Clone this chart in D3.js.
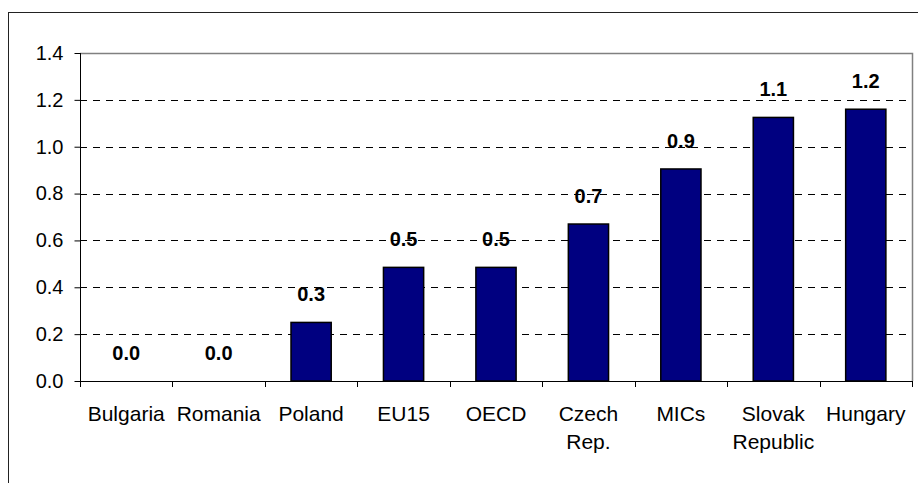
<!DOCTYPE html>
<html>
<head>
<meta charset="utf-8">
<script src="https://cdn.jsdelivr.net/npm/d3@7/dist/d3.min.js"></script>
<style>
  html, body { margin: 0; padding: 0; background: #fff; }
  svg { display: block; }
  text { font-family: "Liberation Sans", Arial, sans-serif; }
</style>
</head>
<body>
<svg id="chart" width="918" height="483"></svg>
<script>
const categories = ["Bulgaria", "Romania", "Poland", "EU15", "OECD", "Czech Rep.", "MICs", "Slovak Republic", "Hungary"];
const values = [0.0, 0.0, 0.25, 0.485, 0.485, 0.67, 0.905, 1.125, 1.16];
const valueLabels = ["0.0", "0.0", "0.3", "0.5", "0.5", "0.7", "0.9", "1.1", "1.2"];
const yTicks = [0, 0.2, 0.4, 0.6, 0.8, 1.0, 1.2, 1.4];

const svg = d3.select("#chart");
const plot = { left: 80, right: 912, top: 53, bottom: 381 };

// outer chart border (extends beyond right/bottom edge)
svg.append("rect")
  .attr("x", 8.5).attr("y", 12.5)
  .attr("width", 1000).attr("height", 1000)
  .attr("fill", "none").attr("stroke", "#222").attr("stroke-width", 1);

const y = d3.scaleLinear().domain([0, 1.4]).range([plot.bottom, plot.top]);
const xCat = d3.scaleBand().domain(categories).range([plot.left, plot.right]).padding(0);
const xBar = d3.scaleBand().domain(categories).range([plot.left, plot.right])
  .paddingInner(0.565).paddingOuter(0.2825);

// gridlines
svg.append("g").selectAll("line")
  .data(yTicks.filter(t => t > 0 && t < 1.4))
  .join("line")
  .attr("x1", plot.left).attr("x2", plot.right)
  .attr("y1", d => Math.round(y(d)) + 0.5).attr("y2", d => Math.round(y(d)) + 0.5)
  .attr("stroke", "#000").attr("stroke-width", 1)
  .attr("stroke-dasharray", "7,6");

// plot border top & right (gray)
svg.append("path")
  .attr("d", `M${plot.left},${plot.top + 0.5}H${plot.right + 0.5}V${plot.bottom}`)
  .attr("fill", "none").attr("stroke", "#808080").attr("stroke-width", 1.5);

// bars
svg.append("g").selectAll("rect")
  .data(categories.map((c, i) => ({ c, v: values[i] })))
  .join("rect")
  .attr("x", d => xBar(d.c))
  .attr("width", xBar.bandwidth())
  .attr("y", d => y(d.v))
  .attr("height", d => y(0) - y(d.v))
  .attr("fill", "#000080")
  .attr("stroke", d => d.v > 0 ? "#000" : "none")
  .attr("stroke-width", 1.5);

// value labels
svg.append("g").selectAll("text")
  .data(categories.map((c, i) => ({ c, v: values[i], l: valueLabels[i] })))
  .join("text")
  .attr("x", d => xCat(d.c) + xCat.bandwidth() / 2)
  .attr("y", d => y(d.v) - 21)
  .attr("text-anchor", "middle")
  .attr("font-weight", "bold")
  .attr("font-size", 20)
  .attr("fill", "#000")
  .text(d => d.l);

// y axis
const yAxis = d3.axisLeft(y).tickValues(yTicks).tickFormat(d3.format(".1f")).tickSize(6).tickPadding(11);
const gy = svg.append("g").attr("transform", `translate(${plot.left + 0.5},0)`).call(yAxis);
gy.select(".domain").attr("stroke", "#000").attr("d", `M0,${plot.top}V${plot.bottom}`);
gy.selectAll(".tick line").attr("stroke", "#000");
gy.selectAll(".tick text").attr("font-size", 20).attr("fill", "#000")
  .attr("font-family", "Liberation Sans, Arial, sans-serif");

// x axis baseline and ticks
const gx = svg.append("g");
gx.append("line")
  .attr("x1", plot.left).attr("x2", plot.right)
  .attr("y1", plot.bottom + 0.5).attr("y2", plot.bottom + 0.5)
  .attr("stroke", "#000");
gx.selectAll("line.tk")
  .data(categories.map(c => xCat(c)).concat([plot.right]))
  .join("line").attr("class", "tk")
  .attr("x1", d => Math.round(d) + 0.5).attr("x2", d => Math.round(d) + 0.5)
  .attr("y1", plot.bottom).attr("y2", plot.bottom + 6)
  .attr("stroke", "#000");

// category labels
const catG = gx.selectAll("text.cat")
  .data(categories)
  .join("text").attr("class", "cat")
  .attr("text-anchor", "middle")
  .attr("font-size", 21)
  .attr("fill", "#000");
catG.each(function(c) {
  const lines = (c === "Czech Rep." || c === "Slovak Republic") ? c.split(" ") : [c];
  const t = d3.select(this);
  lines.forEach((ln, i) => {
    t.append("tspan")
      .attr("x", xCat(c) + xCat.bandwidth() / 2)
      .attr("y", 421 + i * 28)
      .text(ln);
  });
});
</script>
</body>
</html>
